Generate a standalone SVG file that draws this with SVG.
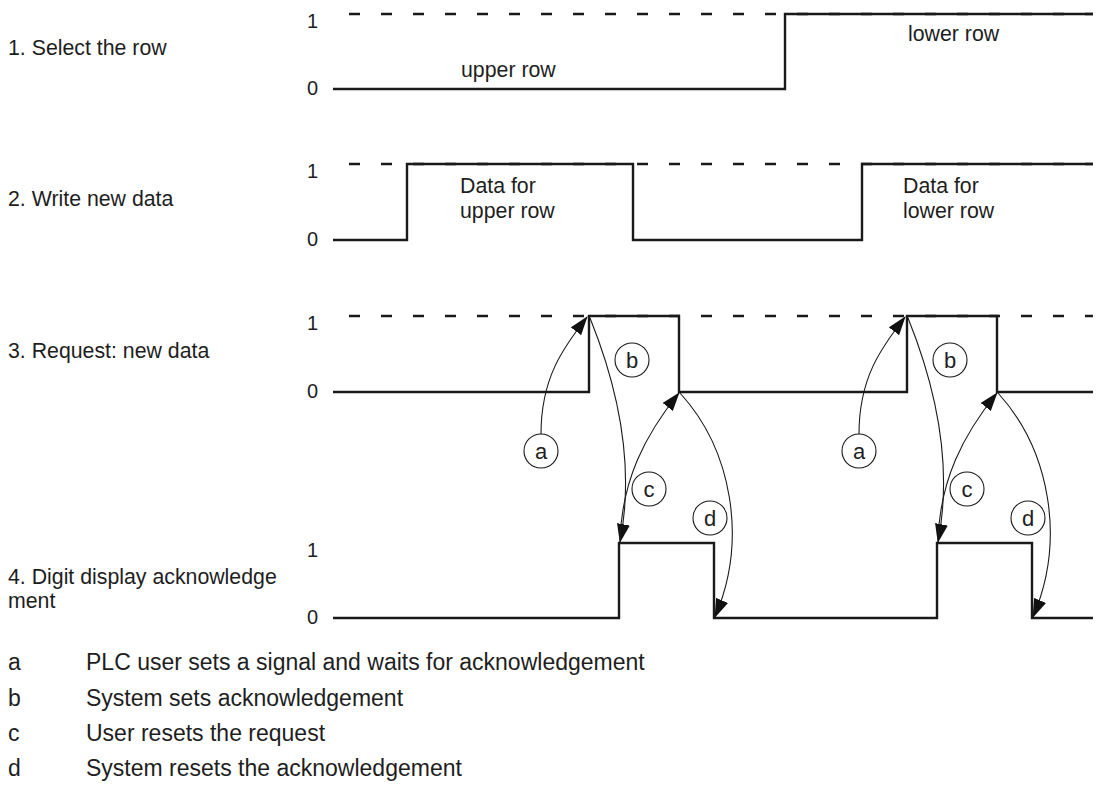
<svg xmlns="http://www.w3.org/2000/svg" width="1098" height="787" viewBox="0 0 1098 787">
<style>
  text { font-family: "Liberation Sans", Arial, sans-serif; fill: #1e1e1e; }
  .lbl { font-size: 21.3px; }
  .ax { font-size: 20px; }
  .leg { font-size: 23px; }
  .cl { font-size: 22px; text-anchor: middle; }
  .sig { fill: none; stroke: #1a1a1a; stroke-width: 2.4; stroke-linejoin: miter; }
  .dash { fill: none; stroke: #1a1a1a; stroke-width: 2.4; stroke-dasharray: 11 21; }
  .arc { fill: none; stroke: #1a1a1a; stroke-width: 1.1; marker-end: url(#ah); }
  .circ { fill: #fff; stroke: #1a1a1a; stroke-width: 1.1; }
</style>
<defs>
  <marker id="ah" viewBox="0 0 19 13" refX="18" refY="6.5" markerWidth="19" markerHeight="13" markerUnits="userSpaceOnUse" orient="auto">
    <path d="M0,0 L19,6.5 L0,13 z" fill="#111"/>
  </marker>
</defs>
<rect width="1098" height="787" fill="#fff"/>

<g id="row-labels">
  <text class="lbl" x="8" y="55">1. Select the row</text>
  <text class="lbl" x="8" y="206">2. Write new data</text>
  <text class="lbl" x="8" y="358">3. Request: new data</text>
  <text class="lbl" x="8" y="584">4. Digit display acknowledge</text>
  <text class="lbl" x="8" y="608">ment</text>
</g>

<g id="axis-labels">
  <text class="ax" x="307" y="28">1</text>
  <text class="ax" x="307" y="95">0</text>
  <text class="ax" x="307" y="178">1</text>
  <text class="ax" x="307" y="246">0</text>
  <text class="ax" x="307" y="330">1</text>
  <text class="ax" x="307" y="398">0</text>
  <text class="ax" x="307" y="557">1</text>
  <text class="ax" x="307" y="624">0</text>
</g>

<g id="signal-1">
  <line class="dash" x1="349" y1="14" x2="1093" y2="14"/>
  <polyline class="sig" points="333,89 785,89 785,14 1093,14"/>
  <text class="lbl" x="461" y="77">upper row</text>
  <text class="lbl" x="908" y="41">lower row</text>
</g>

<g id="signal-2">
  <line class="dash" x1="349" y1="164" x2="1093" y2="164"/>
  <polyline class="sig" points="333,240 407,240 407,164 633,164 633,240 862,240 862,164 1093,164"/>
  <text class="lbl" x="460" y="193">Data for</text>
  <text class="lbl" x="460" y="218">upper row</text>
  <text class="lbl" x="903" y="193">Data for</text>
  <text class="lbl" x="903" y="218">lower row</text>
</g>

<g id="signal-3">
  <line class="dash" x1="349" y1="316" x2="1093" y2="316"/>
  <polyline class="sig" points="333,392 589,392 589,316 679,316 679,392 907,392 907,316 997,316 997,392 1093,392"/>
</g>

<g id="signal-4">
  <polyline class="sig" points="333,618 619,618 619,543 714,543 714,618 937,618 937,543 1032,543 1032,618 1093,618"/>
</g>

<g id="connectors">
  <path class="arc" d="M541,434 C541,378 563,348 587,317"/>
  <path class="arc" d="M590,318 C615,380 636,460 620,542"/>
  <path class="arc" d="M620,540 C622,480 645,435 679,393"/>
  <path class="arc" d="M680,393 C732,450 748,540 715,617"/>
  <g transform="translate(318,0)">
    <path class="arc" d="M541,434 C541,378 563,348 587,317"/>
    <path class="arc" d="M590,318 C615,380 636,460 620,542"/>
    <path class="arc" d="M620,540 C622,480 645,435 679,393"/>
    <path class="arc" d="M680,393 C732,450 748,540 715,617"/>
  </g>
</g>

<g id="marker-a1"><circle class="circ" cx="541" cy="451" r="17"/><text class="cl" x="541" y="458.5">a</text></g>
<g id="marker-b1"><circle class="circ" cx="632" cy="360" r="17"/><text class="cl" x="632" y="368">b</text></g>
<g id="marker-c1"><circle class="circ" cx="649" cy="489" r="17"/><text class="cl" x="649" y="496.5">c</text></g>
<g id="marker-d1"><circle class="circ" cx="710" cy="518" r="17"/><text class="cl" x="710" y="526">d</text></g>
<g id="marker-a2"><circle class="circ" cx="859" cy="451" r="17"/><text class="cl" x="859" y="458.5">a</text></g>
<g id="marker-b2"><circle class="circ" cx="950" cy="360" r="17"/><text class="cl" x="950" y="368">b</text></g>
<g id="marker-c2"><circle class="circ" cx="967" cy="489" r="17"/><text class="cl" x="967" y="496.5">c</text></g>
<g id="marker-d2"><circle class="circ" cx="1028" cy="518" r="17"/><text class="cl" x="1028" y="526">d</text></g>

<g id="legend">
  <text class="leg" x="8" y="670">a</text>
  <text class="leg" x="86" y="670">PLC user sets a signal and waits for acknowledgement</text>
  <text class="leg" x="8" y="706">b</text>
  <text class="leg" x="86" y="706">System sets acknowledgement</text>
  <text class="leg" x="8" y="741">c</text>
  <text class="leg" x="86" y="741">User resets the request</text>
  <text class="leg" x="8" y="776">d</text>
  <text class="leg" x="86" y="776">System resets the acknowledgement</text>
</g>
</svg>
